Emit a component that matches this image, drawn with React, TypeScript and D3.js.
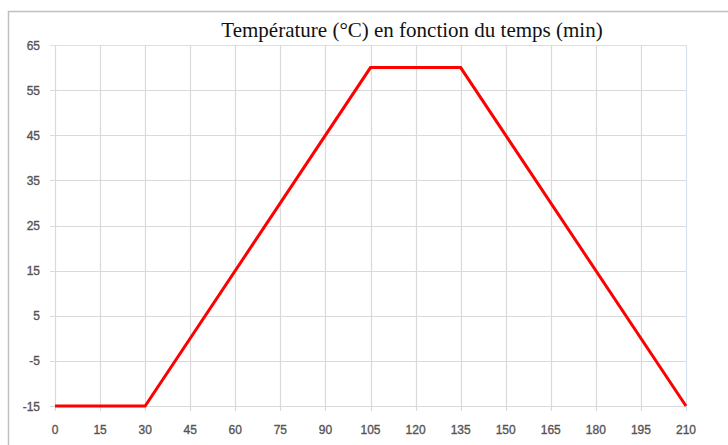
import React from "react";
import * as d3 from "d3";

const times = [0, 30, 105, 135, 210];
const temps = [-15, -15, 60, 60, -15];
const xTicks = [0, 15, 30, 45, 60, 75, 90, 105, 120, 135, 150, 165, 180, 195, 210];
const yTicks = [-15, -5, 5, 15, 25, 35, 45, 55, 65];
const title = "Température (°C) en fonction du temps (min)";

export default function App() {
  const W = 728, H = 445;
  const x = d3.scaleLinear().domain([0, 210]).range([55, 686]);
  const y = d3.scaleLinear().domain([-15, 65]).range([406, 45]);
  const pts = times.map((t, i) => [t, temps[i]] as [number, number]);
  const line = d3.line<[number, number]>().x(d => x(d[0])).y(d => y(d[1]));
  const lab = { fontFamily: "Liberation Sans", fontSize: 12, fill: "#555", stroke: "#555", strokeWidth: 0.35 };
  return (
    <svg width={W} height={H} style={{ position: "absolute", left: 0, top: 0, background: "#fff" }}>
      <rect x={8.5} y={11.5} width={800} height={500} fill="#fff" stroke="#c0c0c0" strokeWidth={1.5} />
      <text x={412} y={37} textAnchor="middle" fontFamily="Liberation Serif" fontSize={21} fill="#111">{title}</text>
      {yTicks.map(v => (
        <line key={"gy" + v} x1={50} x2={x(210)} y1={Math.round(y(v)) + 0.5} y2={Math.round(y(v)) + 0.5}
          stroke={v === 65 ? "#d6e1ef" : "#dadada"} strokeWidth={1.2} />
      ))}
      {xTicks.map(v => (
        <line key={"gx" + v} x1={Math.round(x(v)) + 0.5} x2={Math.round(x(v)) + 0.5} y1={y(65)} y2={411}
          stroke={v === 210 ? "#d6e1ef" : "#dadada"} strokeWidth={1.2} />
      ))}
      {yTicks.map(v => (
        <text key={"ty" + v} x={40} y={y(v) + 4.5} textAnchor="end" {...lab}>{v}</text>
      ))}
      {xTicks.map(v => (
        <text key={"tx" + v} x={x(v)} y={434} textAnchor="middle" {...lab}>{v}</text>
      ))}
      <path d={line(pts) || ""} fill="none" stroke="#ff0000" strokeWidth={3} strokeLinejoin="miter" />
    </svg>
  );
}
